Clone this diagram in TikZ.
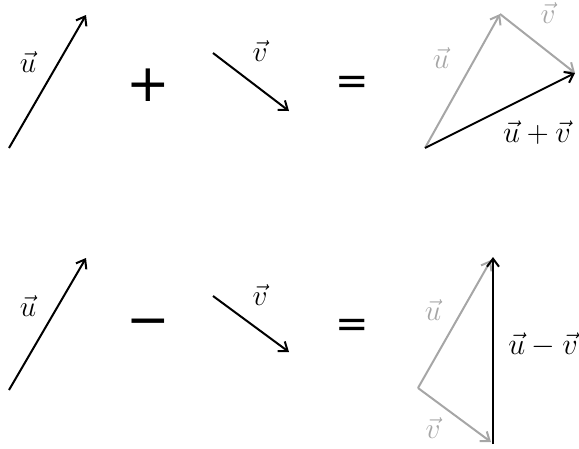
\documentclass[tikz,border=0pt]{standalone}
\usepackage{fontspec}
\usetikzlibrary{arrows.meta}
\newfontfamily\symfont{DejaVu Sans}
\definecolor{lightvec}{RGB}{166,166,166}
\tikzset{
  vec/.style={line width=2pt, -{Straight Barb[length=8pt,width=12pt,line width=2pt]}},
  blackvec/.style={vec, draw=black},
  grayvec/.style={vec, draw=lightvec},
  lab/.style={font=\Huge, inner sep=0pt, scale=1.18},
  graylab/.style={lab, text=lightvec},
  sumlab/.style={font=\Huge, inner sep=0pt, scale=1.22},
  opsign/.style={font=\symfont\fontsize{52}{52}\selectfont, inner sep=0pt},
  eqsign/.style={font=\symfont\fontsize{40}{40}\selectfont, inner sep=0pt}
}
\begin{document}
\begin{tikzpicture}[x=1pt,y=-1pt]
\useasboundingbox (0,0) rectangle (579,448);
% ---- top row ----
\coordinate (u1s) at (9,148);
\coordinate (u1e) at (86,15);
\draw[blackvec] (u1s) -- (u1e);
\node[lab] (u1l) at (28,62) {$\vec u$};
\node[opsign] (plus) at (148,85) {+};
\coordinate (v1s) at (213,53);
\coordinate (v1e) at (289,111);
\draw[blackvec] (v1s) -- (v1e);
\node[lab] (v1l) at (260,51) {$\vec v$};
\node[eqsign] (eq1) at (352,85) {=};
\coordinate (a1) at (425,148);
\coordinate (a2) at (500,14);
\coordinate (a3) at (575,73);
\draw[grayvec] (a1) -- (a2);
\draw[grayvec] (a2) -- (a3);
\draw[blackvec] (a1) -- (a3);
\node[graylab] (au) at (441,58) {$\vec u$};
\node[graylab] (av) at (548,13) {$\vec v$};
\node[sumlab] (sum) at (537,133) {$\vec u+\vec v$};
% ---- bottom row ----
\coordinate (u2s) at (9,390);
\coordinate (u2e) at (86,258);
\draw[blackvec] (u2s) -- (u2e);
\node[lab] (u2l) at (28,306) {$\vec u$};
\node[opsign] (minus) at (148,328) {−};
\coordinate (v2s) at (213,296);
\coordinate (v2e) at (289,352);
\draw[blackvec] (v2s) -- (v2e);
\node[lab] (v2l) at (260,295) {$\vec v$};
\node[eqsign] (eq2) at (352,328) {=};
\coordinate (b1) at (418,388);
\coordinate (b2) at (491,260);
\coordinate (b3) at (491,442);
\coordinate (b4) at (493,444);
\coordinate (b5) at (493,257);
\draw[grayvec] (b1) -- (b2);
\draw[grayvec] (b1) -- (b3);
\draw[blackvec] (b4) -- (b5);
\node[graylab] (bu) at (433,310) {$\vec u$};
\node[graylab] (bv) at (433,428) {$\vec v$};
\node[sumlab, anchor=west] (diff) at (508,345) {$\vec u-\vec v$};
\end{tikzpicture}
\end{document}
